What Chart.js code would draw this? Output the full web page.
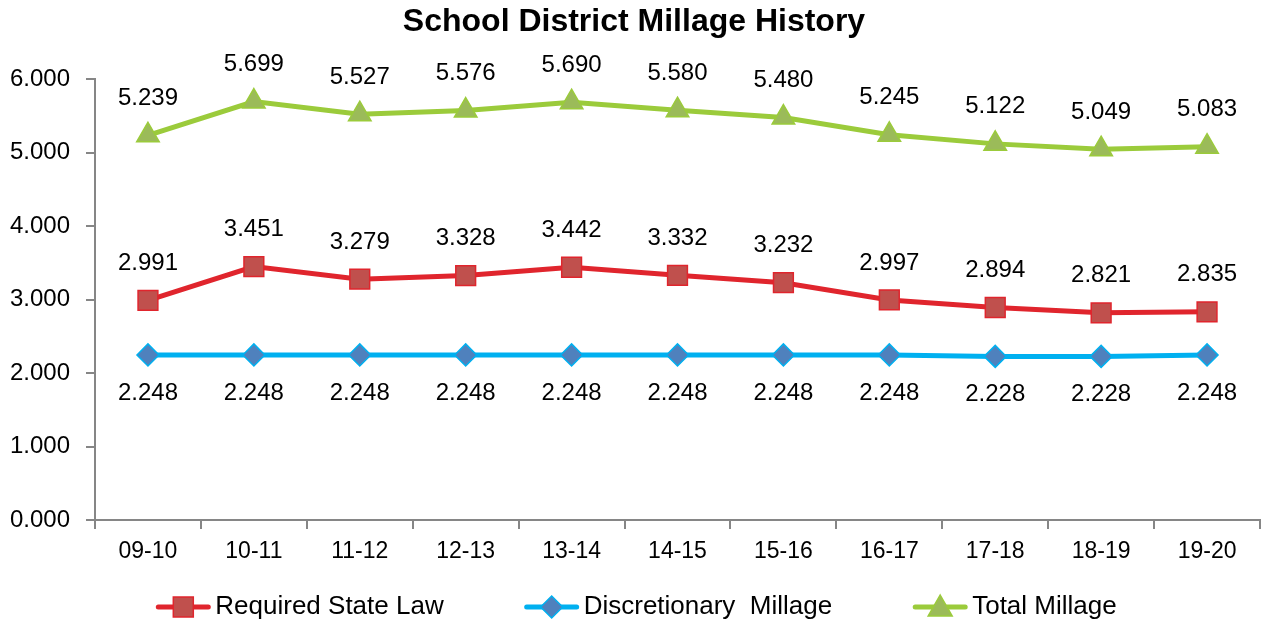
<!DOCTYPE html>
<html>
<head>
<meta charset="utf-8">
<script src="https://cdn.jsdelivr.net/npm/chart.js@4"></script>
<style>
  html, body { margin: 0; padding: 0; background: #fff; }
  #wrap { width: 1264px; height: 626px; }
</style>
</head>
<body>
<div id="wrap"><canvas id="myChart"></canvas></div>
<script>
// Daten
const years = ['09-10', '10-11', '11-12', '12-13', '13-14', '14-15', '15-16', '16-17', '17-18', '18-19', '19-20'];
const requiredState = [2.991, 3.451, 3.279, 3.328, 3.442, 3.332, 3.232, 2.997, 2.894, 2.821, 2.835];
const discretionary = [2.248, 2.248, 2.248, 2.248, 2.248, 2.248, 2.248, 2.248, 2.228, 2.228, 2.248];
const totalMillage = [5.239, 5.699, 5.527, 5.576, 5.690, 5.580, 5.480, 5.245, 5.122, 5.049, 5.083];

const FONT = "'Liberation Sans', Arial, sans-serif";

// Marker zeichnen (fuer die Legende)
function drawMarker(g, shape, x, y, fill, border) {
    g.fillStyle = fill; g.strokeStyle = border; g.lineWidth = 1.5;
    g.beginPath();
    if (shape === 'rect') {
        g.rect(x - 10, y - 10, 20, 20);
    } else if (shape === 'rectRot') {
        g.moveTo(x, y - 11); g.lineTo(x + 11, y); g.lineTo(x, y + 11); g.lineTo(x - 11, y); g.closePath();
    } else {
        g.moveTo(x, y - 12); g.lineTo(x + 12, y + 9); g.lineTo(x - 12, y + 9); g.closePath();
    }
    g.fill(); g.stroke();
}

// Datenbeschriftungen ueber / unter den Punkten
const valueLabels = {
    id: 'valueLabels',
    afterDatasetsDraw(chart) {
        const ctx = chart.ctx;
        ctx.save();
        ctx.font = '24px ' + FONT;
        ctx.fillStyle = '#000';
        ctx.textAlign = 'center';
        ctx.textBaseline = 'middle';
        chart.data.datasets.forEach((ds, di) => {
            const meta = chart.getDatasetMeta(di);
            meta.data.forEach((pt, i) => {
                const off = ds.labelPos === 'below' ? 38 : -37;
                ctx.fillText(ds.data[i].toFixed(3), pt.x, pt.y + off);
            });
        });
        ctx.restore();
    }
};

// eigene Legende unten: Linie + Marker + Text
const lineLegend = {
    id: 'lineLegend',
    afterDraw(chart) {
        const ctx = chart.ctx;
        const iconW = 56, gapText = 4, gapItem = 80, y = 607;
        ctx.save();
        ctx.font = '26px ' + FONT;
        ctx.textBaseline = 'middle';
        const items = chart.data.datasets.map(ds => ({ ds, w: ctx.measureText(ds.label).width }));
        let total = 0;
        items.forEach((it, i) => { total += iconW + gapText + it.w + (i ? gapItem : 0); });
        let x = chart.width / 2 + 4 - total / 2;
        items.forEach(it => {
            const ds = it.ds;
            ctx.strokeStyle = ds.borderColor; ctx.lineWidth = 5; ctx.lineCap = 'round';
            ctx.beginPath(); ctx.moveTo(x + 3, y); ctx.lineTo(x + iconW - 3, y); ctx.stroke();
            drawMarker(ctx, ds.pointStyle, x + iconW / 2, y, ds.backgroundColor, ds.pointBorderColor);
            ctx.fillStyle = '#000';
            ctx.fillText(ds.label, x + iconW + gapText, y);
            x += iconW + gapText + it.w + gapItem;
        });
        ctx.restore();
    }
};

const chart = new Chart('myChart', {
    type: 'line',
    data: {
        labels: years,
        datasets: [
            {
                label: 'Required State Law', data: requiredState, labelPos: 'above',
                borderColor: '#E0252D', backgroundColor: '#C0504D', pointBorderColor: '#E0252D',
                borderWidth: 5, pointStyle: 'rect', pointRadius: 14, pointBorderWidth: 1.5
            },
            {
                label: 'Discretionary  Millage', data: discretionary, labelPos: 'below',
                borderColor: '#00B0F0', backgroundColor: '#4F81BD', pointBorderColor: '#00B0F0',
                borderWidth: 5, pointStyle: 'rectRot', pointRadius: 11, pointBorderWidth: 1.5
            },
            {
                label: 'Total Millage', data: totalMillage, labelPos: 'above',
                borderColor: '#9BCB3B', backgroundColor: '#9BBB59', pointBorderColor: '#9BCB3B',
                borderWidth: 5, pointStyle: 'triangle', pointRadius: 13, pointBorderWidth: 1.5
            }
        ]
    },
    options: {
        responsive: true,
        maintainAspectRatio: false,
        animation: false,
        layout: { autoPadding: false, padding: { left: 8, right: 4, top: 0, bottom: 44 } },
        elements: { line: { tension: 0 } },
        scales: {
            x: {
                offset: true,
                afterFit(scale) { scale.height = 62; },
                grid: { offset: true, drawOnChartArea: false, tickLength: 9, color: '#868686', lineWidth: 2 },
                border: { color: '#868686', width: 2 },
                ticks: { color: '#000', font: { size: 23, family: FONT }, padding: 9 }
            },
            y: {
                min: 0, max: 6,
                afterFit(scale) { scale.width = 87; },
                grid: { drawOnChartArea: false, tickLength: 9, color: '#868686', lineWidth: 2 },
                border: { color: '#868686', width: 2 },
                ticks: {
                    stepSize: 1, color: '#000', padding: 16,
                    font: { size: 24, family: FONT },
                    callback: v => v.toFixed(3)
                }
            }
        },
        plugins: {
            title: {
                display: true, text: 'School District Millage History', color: '#000',
                font: { size: 32, weight: 'bold', family: FONT }, padding: { top: 3, bottom: 38 }
            },
            legend: { display: false },
            tooltip: { enabled: false }
        }
    },
    plugins: [valueLabels, lineLegend]
});
</script>
</body>
</html>
